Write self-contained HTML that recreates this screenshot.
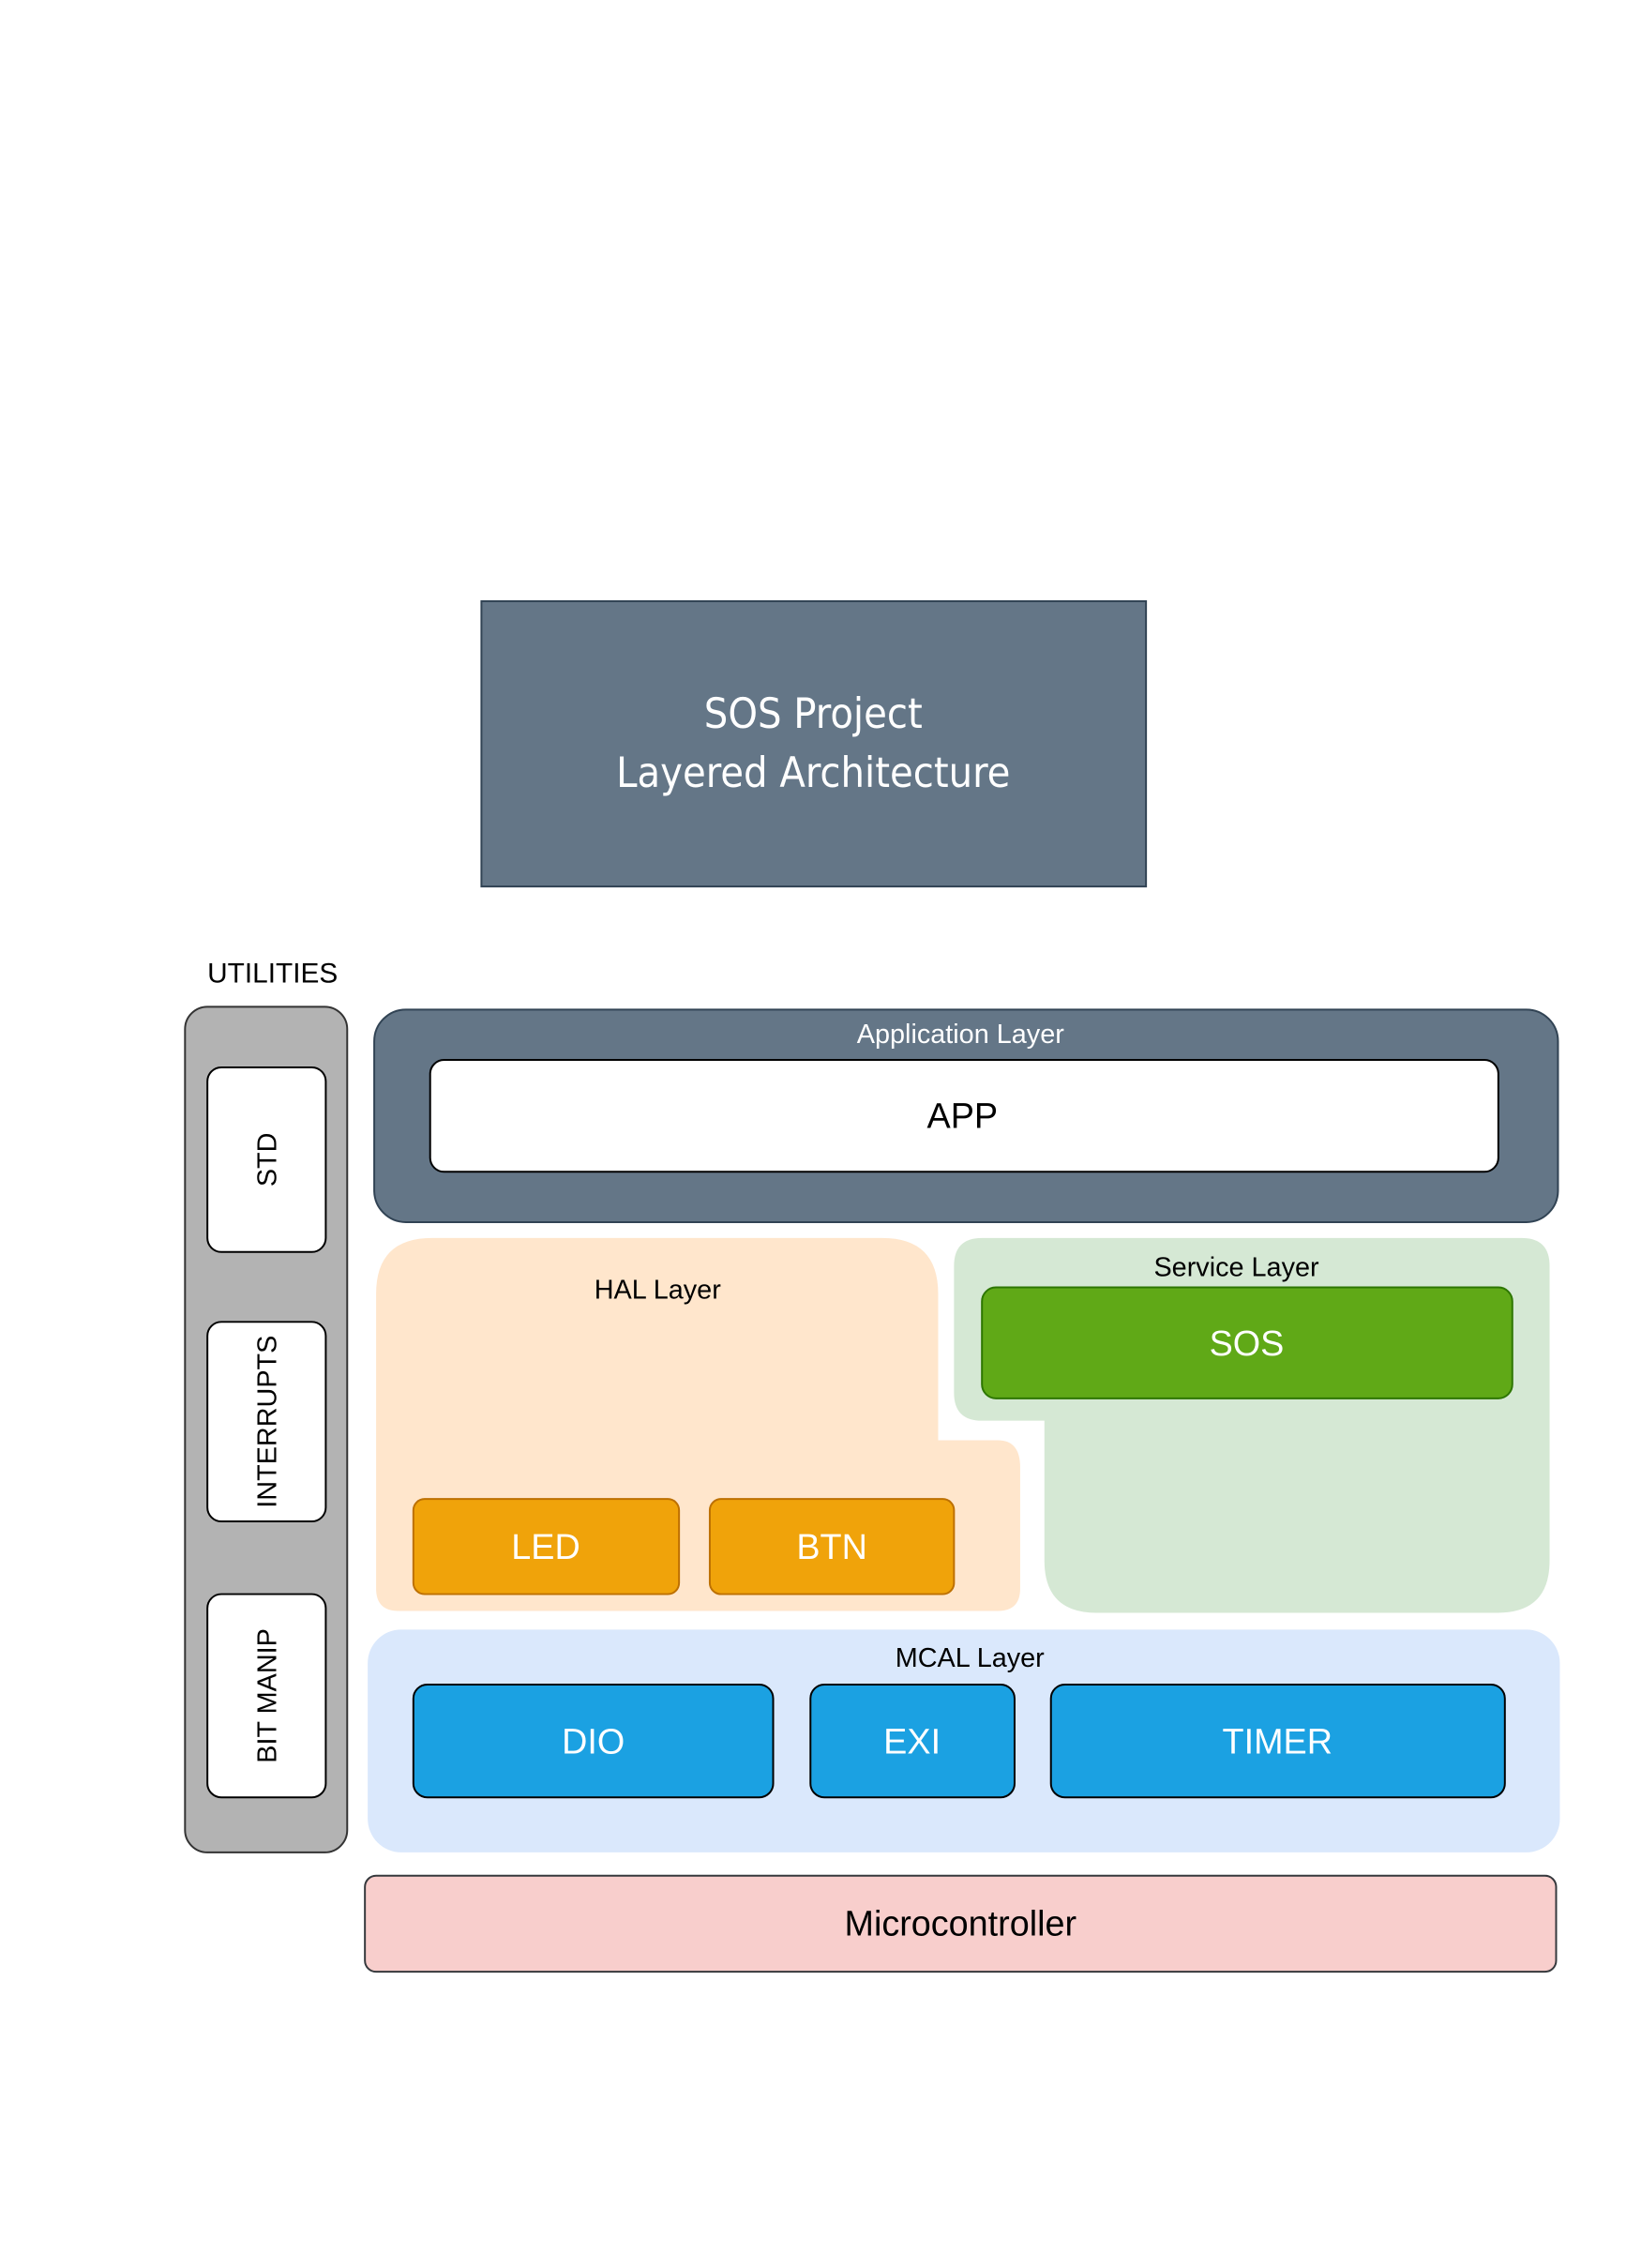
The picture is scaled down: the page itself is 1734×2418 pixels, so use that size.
<!DOCTYPE html>
<html><head><meta charset="utf-8"><style>html,body{margin:0;padding:0;background:#fff}svg{display:block}</style></head>
<body>
<svg width="1734" height="2418" viewBox="0 0 1734 2418" xmlns="http://www.w3.org/2000/svg" font-family="'Liberation Sans', sans-serif">
<g transform="translate(0.5,3.8) scale(0.994)">
<rect x="516" y="641" width="713" height="306" fill="#647687" stroke="#314354" stroke-width="2"/>
<text x="872" y="777" font-size="45" fill="#fff" text-anchor="middle" font-family="'DejaVu Sans Condensed','Liberation Sans',sans-serif">SOS Project</text>
<text x="872" y="840" font-size="45" fill="#fff" text-anchor="middle" font-family="'DejaVu Sans Condensed','Liberation Sans',sans-serif">Layered Architecture</text>

<text x="292" y="1050" font-size="30" text-anchor="middle" fill="#000">UTILITIES</text>
<rect x="198" y="1076" width="174" height="907" rx="24" fill="#b3b3b3" stroke="#333" stroke-width="2"/>
<rect x="222" y="1141" width="127" height="198" rx="15" fill="#fff" stroke="#000" stroke-width="2"/>
<rect x="222" y="1414" width="127" height="214" rx="15" fill="#fff" stroke="#000" stroke-width="2"/>
<rect x="222" y="1706" width="127" height="218" rx="15" fill="#fff" stroke="#000" stroke-width="2"/>
<text transform="translate(296,1240) rotate(-90)" font-size="29" text-anchor="middle">STD</text>
<text transform="translate(296,1521) rotate(-90)" font-size="29" text-anchor="middle">INTERRUPTS</text>
<text transform="translate(296,1815) rotate(-90)" font-size="29" text-anchor="middle">BIT MANIP</text>

<rect x="401" y="1079" width="1270" height="228" rx="34" fill="#647687" stroke="#314354" stroke-width="2"/>
<text x="1030" y="1115" font-size="29" fill="#fff" text-anchor="middle">Application Layer</text>
<rect x="461" y="1133" width="1146" height="120" rx="15" fill="#fff" stroke="#000" stroke-width="2"/>
<text x="1032" y="1206" font-size="38" text-anchor="middle">APP</text>

<path d="M403 1384 Q403 1324 463 1324 L946 1324 Q1006 1324 1006 1384 L1006 1541 L1070 1541 Q1094 1541 1094 1570 L1094 1700 Q1094 1724 1070 1724 L427 1724 Q403 1724 403 1700 Z" fill="#ffe6cc"/>
<text x="705" y="1389" font-size="29" text-anchor="middle">HAL Layer</text>
<rect x="443" y="1604" width="285" height="102" rx="12" fill="#f0a30a" stroke="#bd7000" stroke-width="2"/>
<rect x="761" y="1604" width="262" height="102" rx="12" fill="#f0a30a" stroke="#bd7000" stroke-width="2"/>
<text x="585" y="1668" font-size="38" fill="#fff" text-anchor="middle">LED</text>
<text x="892" y="1668" font-size="38" fill="#fff" text-anchor="middle">BTN</text>

<path d="M1023 1354 Q1023 1324 1053 1324 L1632 1324 Q1662 1324 1662 1354 L1662 1670 Q1662 1726 1606 1726 L1176 1726 Q1120 1726 1120 1670 L1120 1520 L1053 1520 Q1023 1520 1023 1490 Z" fill="#d5e8d4"/>
<text x="1326" y="1365" font-size="29" text-anchor="middle">Service Layer</text>
<rect x="1053" y="1377" width="569" height="119" rx="15" fill="#60a917" stroke="#2d7600" stroke-width="2"/>
<text x="1337" y="1450" font-size="38" fill="#fff" text-anchor="middle">SOS</text>

<rect x="394" y="1744" width="1279" height="239" rx="36" fill="#dae8fc"/>
<text x="1040" y="1784" font-size="29" text-anchor="middle">MCAL Layer</text>
<rect x="443" y="1803" width="386" height="121" rx="15" fill="#1ba1e2" stroke="#000" stroke-width="2"/>
<rect x="869" y="1803" width="219" height="121" rx="15" fill="#1ba1e2" stroke="#000" stroke-width="2"/>
<rect x="1127" y="1803" width="487" height="121" rx="15" fill="#1ba1e2" stroke="#000" stroke-width="2"/>
<text x="636" y="1877" font-size="38" fill="#fff" text-anchor="middle">DIO</text>
<text x="978" y="1877" font-size="38" fill="#fff" text-anchor="middle">EXI</text>
<text x="1370" y="1877" font-size="38" fill="#fff" text-anchor="middle">TIMER</text>

<rect x="391" y="2008" width="1278" height="103" rx="12" fill="#f8cecc" stroke="#36393d" stroke-width="2"/>
<text x="1030" y="2072" font-size="38" text-anchor="middle">Microcontroller</text>
</g>
</svg>
</body></html>
